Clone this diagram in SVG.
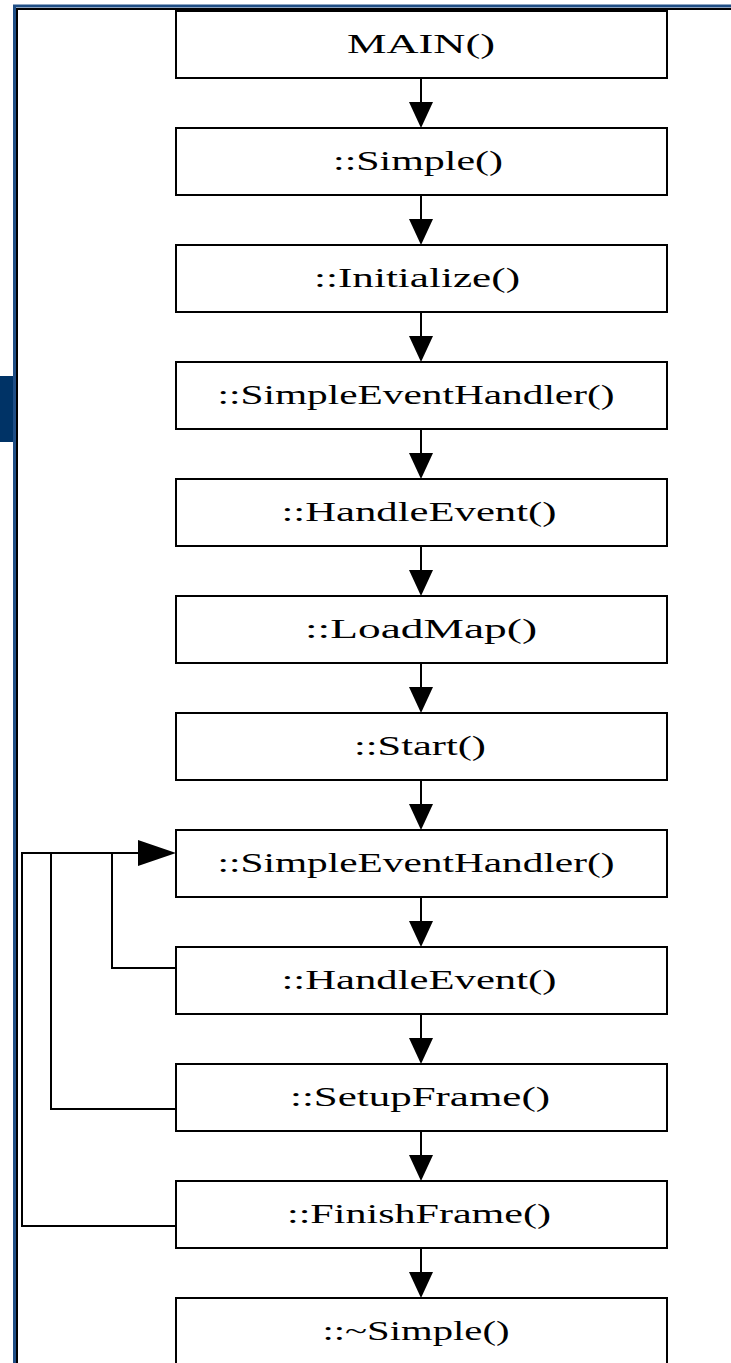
<svg xmlns="http://www.w3.org/2000/svg" width="731" height="1363" viewBox="0 0 731 1363">
<style>
.box{fill:#fff;stroke:#000;stroke-width:2}
.lbl{font-family:"Liberation Serif",serif;font-size:27px;fill:#000;text-anchor:middle}
.ln{fill:none;stroke:#000;stroke-width:2}
.ah{fill:#000}
</style>
<defs>
<path id="down" d="M-12,-26 L12,-26 L0,0 Z"/>
</defs>
<rect width="731" height="1363" fill="#fff"/>
<g id="frame">
<rect x="0" y="376" width="16" height="66" fill="#003366"/>
<path d="M14.5,1363 V6 H731" fill="none" stroke="#1f4e85" stroke-width="3"/>
<path d="M17,1363 V9 H731" fill="none" stroke="#000" stroke-width="2"/>
</g>
<g id="connectors">
<g class="ln">
<path d="M421,78 V104"/>
<path d="M421,195 V221"/>
<path d="M421,312 V338"/>
<path d="M421,429 V455"/>
<path d="M421,546 V572"/>
<path d="M421,663 V689"/>
<path d="M421,780 V806"/>
<path d="M421,897 V923"/>
<path d="M421,1014 V1040"/>
<path d="M421,1131 V1157"/>
<path d="M421,1248 V1274"/>
<path d="M176,968 H112 V853"/>
<path d="M176,1109 H51 V853"/>
<path d="M176,1226 H22 V853 H140"/>
</g>
<g class="ah">
<use href="#down" x="421" y="128"/>
<use href="#down" x="421" y="245"/>
<use href="#down" x="421" y="362"/>
<use href="#down" x="421" y="479"/>
<use href="#down" x="421" y="596"/>
<use href="#down" x="421" y="713"/>
<use href="#down" x="421" y="830"/>
<use href="#down" x="421" y="947"/>
<use href="#down" x="421" y="1064"/>
<use href="#down" x="421" y="1181"/>
<use href="#down" x="421" y="1298"/>
<path d="M138,840 L176,853 L138,866 Z"/>
</g>
</g>
<g id="n1"><rect class="box" x="176" y="11" width="491" height="67"/><text class="lbl" x="421" y="53" textLength="148" lengthAdjust="spacingAndGlyphs">MAIN()</text></g>
<g id="n2"><rect class="box" x="176" y="128" width="491" height="67"/><text class="lbl" x="418" y="170" textLength="170" lengthAdjust="spacingAndGlyphs">::Simple()</text></g>
<g id="n3"><rect class="box" x="176" y="245" width="491" height="67"/><text class="lbl" x="417" y="287" textLength="206" lengthAdjust="spacingAndGlyphs">::Initialize()</text></g>
<g id="n4"><rect class="box" x="176" y="362" width="491" height="67"/><text class="lbl" x="416" y="404" textLength="397" lengthAdjust="spacingAndGlyphs">::SimpleEventHandler()</text></g>
<g id="n5"><rect class="box" x="176" y="479" width="491" height="67"/><text class="lbl" x="419" y="521" textLength="275" lengthAdjust="spacingAndGlyphs">::HandleEvent()</text></g>
<g id="n6"><rect class="box" x="176" y="596" width="491" height="67"/><text class="lbl" x="421" y="638" textLength="232" lengthAdjust="spacingAndGlyphs">::LoadMap()</text></g>
<g id="n7"><rect class="box" x="176" y="713" width="491" height="67"/><text class="lbl" x="420" y="755" textLength="132" lengthAdjust="spacingAndGlyphs">::Start()</text></g>
<g id="n8"><rect class="box" x="176" y="830" width="491" height="67"/><text class="lbl" x="416" y="872" textLength="397" lengthAdjust="spacingAndGlyphs">::SimpleEventHandler()</text></g>
<g id="n9"><rect class="box" x="176" y="947" width="491" height="67"/><text class="lbl" x="419" y="989" textLength="275" lengthAdjust="spacingAndGlyphs">::HandleEvent()</text></g>
<g id="n10"><rect class="box" x="176" y="1064" width="491" height="67"/><text class="lbl" x="420" y="1106" textLength="260" lengthAdjust="spacingAndGlyphs">::SetupFrame()</text></g>
<g id="n11"><rect class="box" x="176" y="1181" width="491" height="67"/><text class="lbl" x="419" y="1223" textLength="264" lengthAdjust="spacingAndGlyphs">::FinishFrame()</text></g>
<g id="n12"><rect class="box" x="176" y="1298" width="491" height="80"/><text class="lbl" x="416" y="1340" textLength="187" lengthAdjust="spacingAndGlyphs">::~Simple()</text></g>
</svg>
